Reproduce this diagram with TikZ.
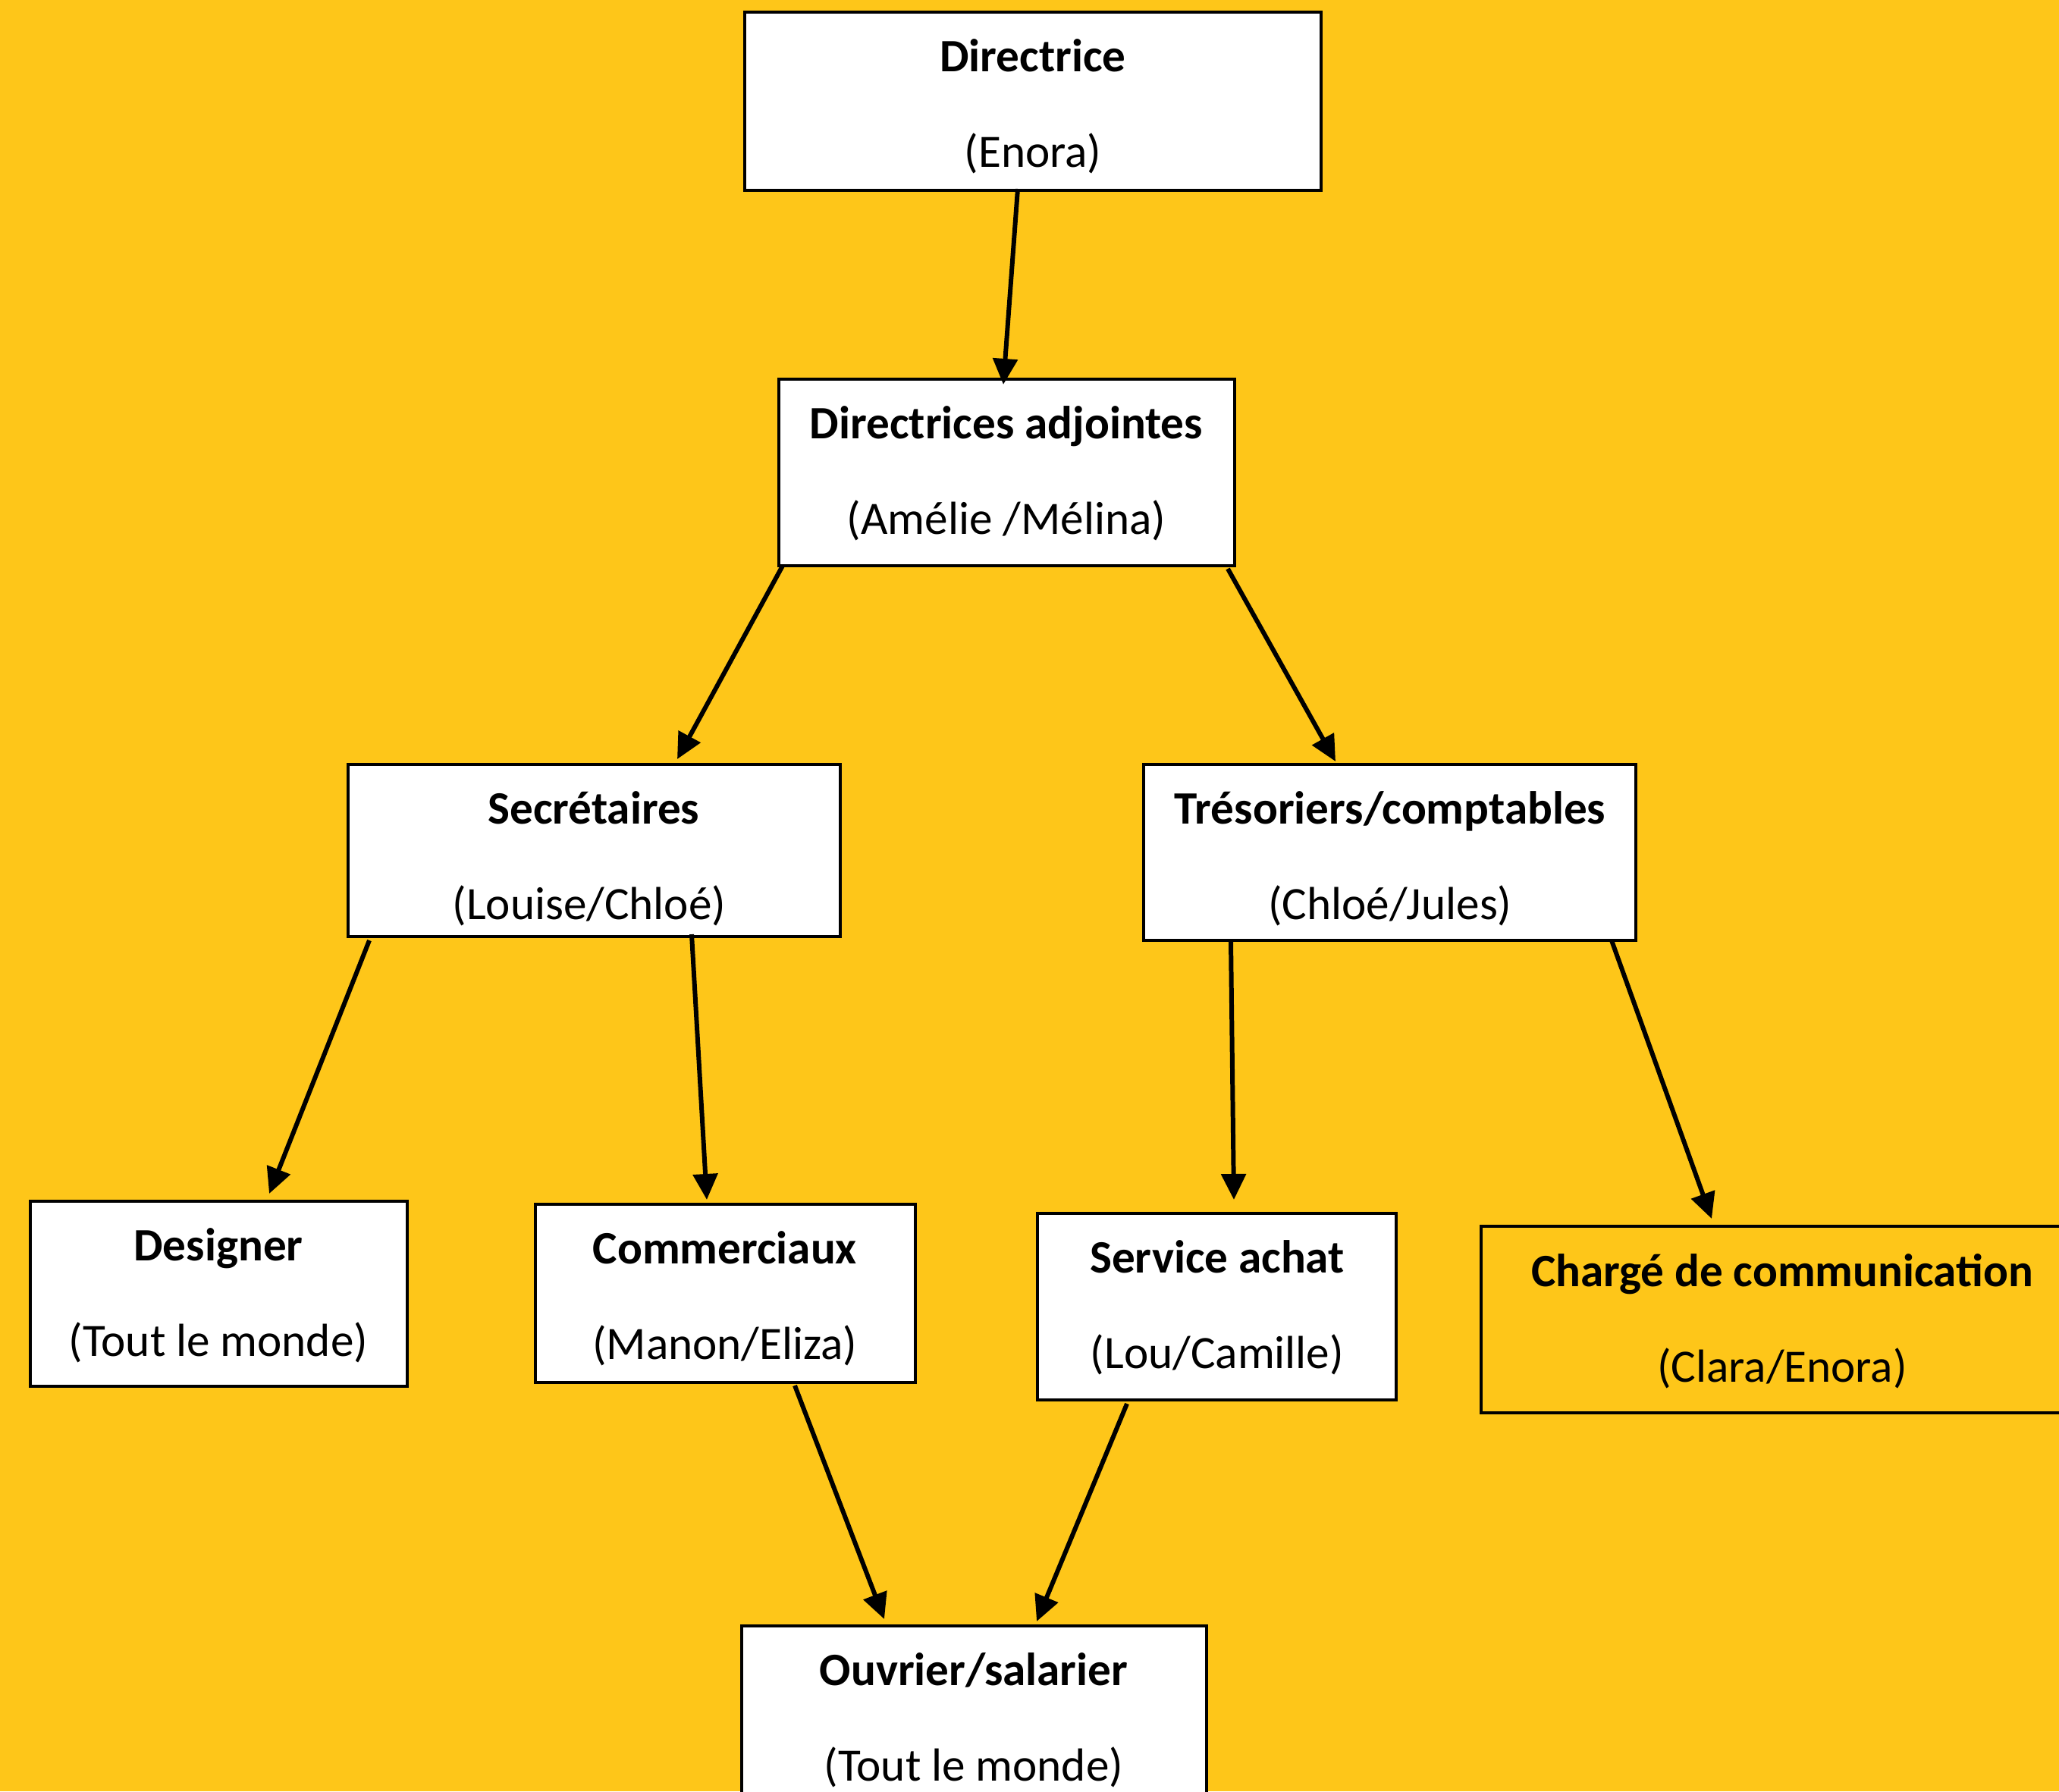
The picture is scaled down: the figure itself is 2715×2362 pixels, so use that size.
\documentclass[tikz,border=0pt]{standalone}
\usepackage{fontspec}
\setmainfont{Carlito}
\usetikzlibrary{arrows.meta}
\definecolor{bgyellow}{RGB}{254,198,25}
\tikzset{
  orgbox/.style={draw=black, line width=0.9pt, fill=white},
  orgboxy/.style={draw=black, line width=0.9pt, fill=bgyellow},
  ttl/.style={anchor=base, inner sep=0pt, font=\fontsize{17.4}{21}\selectfont\bfseries},
  sub/.style={anchor=base, inner sep=0pt, font=\fontsize{17.4}{21}\selectfont},
  conn/.style={line width=1.7pt, -{Triangle[length=0.34cm,width=0.32cm]}}
}
\begin{document}
\begin{tikzpicture}[x=0.01cm,y=-0.01cm]
\useasboundingbox (0,0) rectangle (2715,2362);
\clip (0,0) rectangle (2715,2362);
\fill[bgyellow] (0,0) rectangle (2715,2362);

% boxes
\draw[orgbox] (982,16) rectangle (1742,251);
\node[ttl] (t1) at (1362,94) {Directrice};
\node[sub] (s1) at (1362,220) {(Enora)};

\draw[orgbox] (1027,500) rectangle (1628,746);
\node[ttl] (t2) at (1327,578) {Directrices adjointes};
\node[sub] (s2) at (1327,704) {(Amélie /Mélina)};

\draw[orgbox] (459,1008) rectangle (1108,1235);
\node[ttl] (t3) at (783,1086) {Secrétaires};
\node[sub] (s3) at (777,1212) {(Louise/Chloé)};

\draw[orgbox] (1508,1008) rectangle (2157,1240);
\node[ttl] (t4) at (1833,1086) {Trésoriers/comptables};
\node[sub] (s4) at (1833,1212) {(Chloé/Jules)};

\draw[orgbox] (40,1584) rectangle (537,1828);
\node[ttl] (t5) at (288,1662) {Designer};
\node[sub] (s5) at (288,1788) {(Tout le monde)};

\draw[orgbox] (706,1588) rectangle (1207,1823);
\node[ttl] (t6) at (956,1666) {Commerciaux};
\node[sub] (s6) at (956,1792) {(Manon/Eliza)};

\draw[orgbox] (1368,1600) rectangle (1841,1846);
\node[ttl] (t7) at (1605,1678) {Service achat};
\node[sub] (s7) at (1605,1804) {(Lou/Camille)};

\draw[orgboxy] (1953,1617) rectangle (2750,1863);
\node[ttl] (t8) at (2350,1696) {Chargé de communication};
\node[sub] (s8) at (2350,1822) {(Clara/Enora)};

\draw[orgbox] (978,2144) rectangle (1591,2420);
\node[ttl] (t9) at (1284,2222) {Ouvrier/salarier};
\node[sub] (s9) at (1284,2348) {(Tout le monde)};

% connector end points
\coordinate (a1) at (1342,249);  \coordinate (b1) at (1323,507);
\coordinate (a2) at (1032,746);  \coordinate (b2) at (893,1001);
\coordinate (a3) at (1619,750);  \coordinate (b3) at (1761,1004);
\coordinate (a4) at (487,1240);  \coordinate (b4) at (355,1574);
\coordinate (a5) at (912,1232);  \coordinate (b5) at (932,1582);
\coordinate (a6) at (1623,1240); \coordinate (b6) at (1627,1582);
\coordinate (a7) at (2125,1240); \coordinate (b7) at (2257,1607);
\coordinate (a8) at (1048,1827); \coordinate (b8) at (1166,2135);
\coordinate (a9) at (1486,1851); \coordinate (b9) at (1367,2138);

\draw[conn] (a1) -- (b1);
\draw[conn] (a2) -- (b2);
\draw[conn] (a3) -- (b3);
\draw[conn] (a4) -- (b4);
\draw[conn] (a5) -- (b5);
\draw[conn] (a6) -- (b6);
\draw[conn] (a7) -- (b7);
\draw[conn] (a8) -- (b8);
\draw[conn] (a9) -- (b9);
\end{tikzpicture}
\end{document}
